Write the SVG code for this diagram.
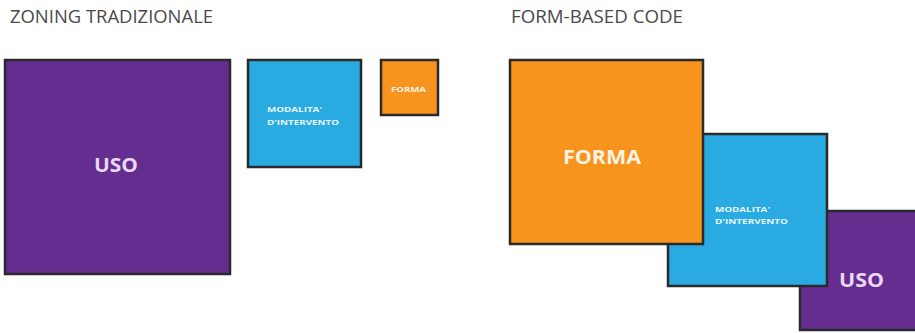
<svg xmlns="http://www.w3.org/2000/svg" width="915" height="333" viewBox="0 0 915 333">
<style>
.box{stroke:#2a2a2a;stroke-width:2.5}
.p{fill:#662d91}
.b{fill:#29abe2}
.o{fill:#f7941d}
.title{font-family:"Open Sans","Liberation Sans",sans-serif;font-size:18.5px;fill:#4a4a4a}
.lbl{font-family:"Open Sans","Liberation Sans",sans-serif;font-weight:bold}
</style>
<rect width="915" height="333" fill="#ffffff"/>
<text class="title" x="10" y="23" textLength="203" lengthAdjust="spacingAndGlyphs">ZONING TRADIZIONALE</text>
<text class="title" x="511" y="23" textLength="172" lengthAdjust="spacingAndGlyphs">FORM-BASED CODE</text>

<g id="zt-uso">
<rect class="box p" x="5" y="60" width="225" height="214"/>
<text class="lbl" x="94" y="172" font-size="20" fill="#e8d9f0" textLength="44" lengthAdjust="spacingAndGlyphs">USO</text>
</g>
<g id="zt-modalita">
<rect class="box b" x="248" y="60" width="113" height="107"/>
<text class="lbl" x="267" y="112" font-size="7" fill="#e8f6fc" textLength="55" lengthAdjust="spacingAndGlyphs">MODALITA'</text>
<text class="lbl" x="267" y="125" font-size="7" fill="#e8f6fc" textLength="72" lengthAdjust="spacingAndGlyphs">D'INTERVENTO</text>
</g>
<g id="zt-forma">
<rect class="box o" x="381" y="60" width="57" height="55"/>
<text class="lbl" x="391" y="92" font-size="7" fill="#fff3e3" textLength="35" lengthAdjust="spacingAndGlyphs">FORMA</text>
</g>

<g id="fbc-uso">
<rect class="box p" x="800" y="211" width="130" height="119"/>
<text class="lbl" x="839" y="287" font-size="20" fill="#e8d9f0" textLength="45" lengthAdjust="spacingAndGlyphs">USO</text>
</g>
<g id="fbc-modalita">
<rect class="box b" x="668" y="134" width="159" height="152"/>
<text class="lbl" x="715" y="212" font-size="7" fill="#e8f6fc" textLength="55" lengthAdjust="spacingAndGlyphs">MODALITA'</text>
<text class="lbl" x="715" y="224" font-size="7" fill="#e8f6fc" textLength="73" lengthAdjust="spacingAndGlyphs">D'INTERVENTO</text>
</g>
<g id="fbc-forma">
<rect class="box o" x="510" y="60" width="193" height="184"/>
<text class="lbl" x="563" y="164" font-size="20" fill="#fff3e3" textLength="78" lengthAdjust="spacingAndGlyphs">FORMA</text>
</g>
<g id="connectors"></g>
</svg>
